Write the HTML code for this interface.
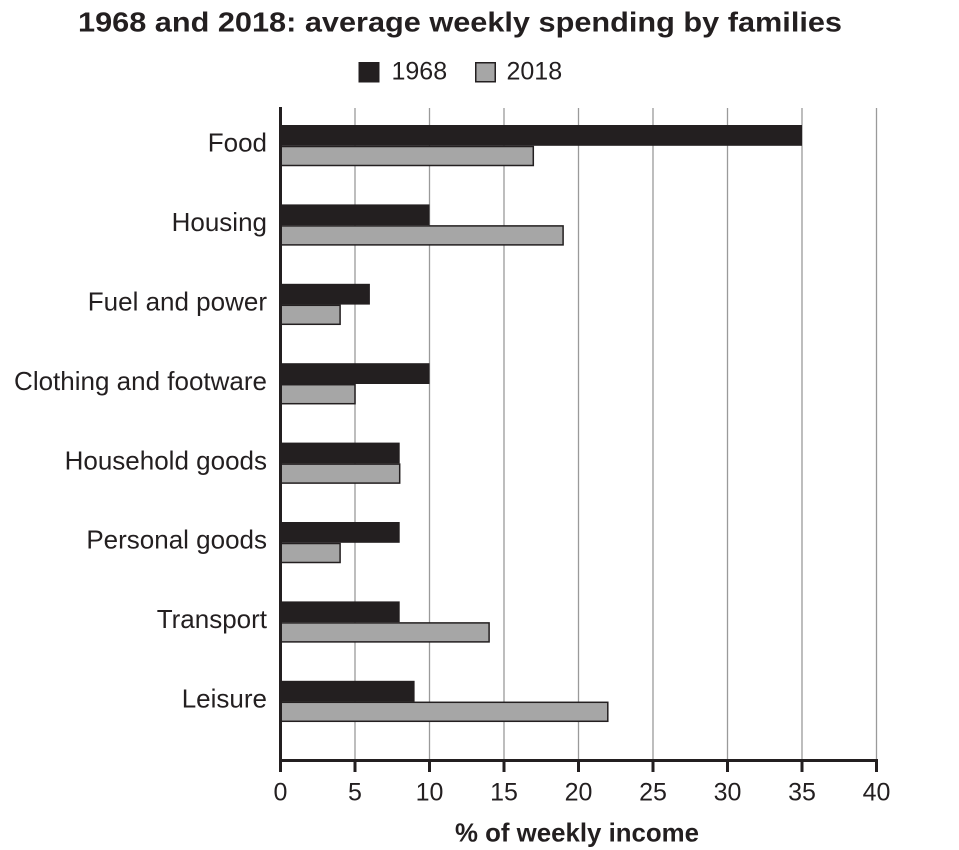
<!DOCTYPE html>
<html>
<head>
<meta charset="utf-8">
<style>
html,body{margin:0;padding:0;background:#fff;}
svg{display:block;}
text{font-family:"Liberation Sans",Arial,sans-serif;fill:#231f20;}
</style>
</head>
<body>
<svg width="959" height="850" viewBox="0 0 959 850" xmlns="http://www.w3.org/2000/svg">
<rect width="959" height="850" fill="#fff"/>
<!-- Title -->
<text x="78" y="31.5" font-size="28" font-weight="bold" textLength="764" lengthAdjust="spacingAndGlyphs">1968 and 2018: average weekly spending by families</text>
<!-- Legend -->
<rect x="358.5" y="62" width="21" height="20.5" fill="#231f20"/>
<text x="391.5" y="79.5" font-size="25">1968</text>
<rect x="475.75" y="62.75" width="19.5" height="19" fill="#a6a6a6" stroke="#231f20" stroke-width="1.5"/>
<text x="506.5" y="79.5" font-size="25">2018</text>

<!-- Gridlines -->
<g stroke="#9a9a9a" stroke-width="1.3">
<line x1="355" y1="108" x2="355" y2="759"/>
<line x1="429.5" y1="108" x2="429.5" y2="759"/>
<line x1="504" y1="108" x2="504" y2="759"/>
<line x1="578.5" y1="108" x2="578.5" y2="759"/>
<line x1="653" y1="108" x2="653" y2="759"/>
<line x1="727.5" y1="108" x2="727.5" y2="759"/>
<line x1="802" y1="108" x2="802" y2="759"/>
<line x1="876.5" y1="108" x2="876.5" y2="759"/>
</g>

<!-- Bars -->
<g>
<rect x="280.5" y="125" width="521.5" height="20.8" fill="#231f20"/>
<rect x="281" y="146.5" width="252.3" height="19" fill="#a6a6a6" stroke="#231f20" stroke-width="1.5"/>
<rect x="280.5" y="204.4" width="149" height="20.8" fill="#231f20"/>
<rect x="281" y="225.9" width="282.1" height="19" fill="#a6a6a6" stroke="#231f20" stroke-width="1.5"/>
<rect x="280.5" y="283.8" width="89.4" height="20.8" fill="#231f20"/>
<rect x="281" y="305.3" width="59.1" height="19" fill="#a6a6a6" stroke="#231f20" stroke-width="1.5"/>
<rect x="280.5" y="363.2" width="149" height="20.8" fill="#231f20"/>
<rect x="281" y="384.7" width="74" height="19" fill="#a6a6a6" stroke="#231f20" stroke-width="1.5"/>
<rect x="280.5" y="442.6" width="119.2" height="20.8" fill="#231f20"/>
<rect x="281" y="464.1" width="118.7" height="19" fill="#a6a6a6" stroke="#231f20" stroke-width="1.5"/>
<rect x="280.5" y="522" width="119.2" height="20.8" fill="#231f20"/>
<rect x="281" y="543.5" width="59.1" height="19" fill="#a6a6a6" stroke="#231f20" stroke-width="1.5"/>
<rect x="280.5" y="601.4" width="119.2" height="20.8" fill="#231f20"/>
<rect x="281" y="622.9" width="208.1" height="19" fill="#a6a6a6" stroke="#231f20" stroke-width="1.5"/>
<rect x="280.5" y="680.8" width="134.1" height="20.8" fill="#231f20"/>
<rect x="281" y="702.3" width="326.8" height="19" fill="#a6a6a6" stroke="#231f20" stroke-width="1.5"/>
</g>

<!-- Axes -->
<line x1="280.5" y1="107" x2="280.5" y2="772" stroke="#231f20" stroke-width="3"/>
<line x1="279" y1="760.5" x2="878" y2="760.5" stroke="#231f20" stroke-width="3"/>
<g stroke="#231f20" stroke-width="3">
<line x1="355" y1="760" x2="355" y2="772"/>
<line x1="429.5" y1="760" x2="429.5" y2="772"/>
<line x1="504" y1="760" x2="504" y2="772"/>
<line x1="578.5" y1="760" x2="578.5" y2="772"/>
<line x1="653" y1="760" x2="653" y2="772"/>
<line x1="727.5" y1="760" x2="727.5" y2="772"/>
<line x1="802" y1="760" x2="802" y2="772"/>
<line x1="876.5" y1="760" x2="876.5" y2="772"/>
</g>

<!-- Tick labels -->
<g font-size="25" text-anchor="middle">
<text x="280.5" y="800.5">0</text>
<text x="355" y="800.5">5</text>
<text x="429.5" y="800.5">10</text>
<text x="504" y="800.5">15</text>
<text x="578.5" y="800.5">20</text>
<text x="653" y="800.5">25</text>
<text x="727.5" y="800.5">30</text>
<text x="802" y="800.5">35</text>
<text x="876.5" y="800.5">40</text>
</g>

<!-- Category labels -->
<g font-size="26" text-anchor="end">
<text x="267" y="151.7">Food</text>
<text x="267" y="231.1">Housing</text>
<text x="267" y="310.5">Fuel and power</text>
<text x="267" y="389.9">Clothing and footware</text>
<text x="267" y="469.3">Household goods</text>
<text x="267" y="548.7">Personal goods</text>
<text x="267" y="628.1">Transport</text>
<text x="267" y="707.5">Leisure</text>
</g>

<!-- Axis title -->
<text x="577" y="841.5" font-size="26" font-weight="bold" text-anchor="middle" textLength="244" lengthAdjust="spacingAndGlyphs">% of weekly income</text>
</svg>
</body>
</html>
